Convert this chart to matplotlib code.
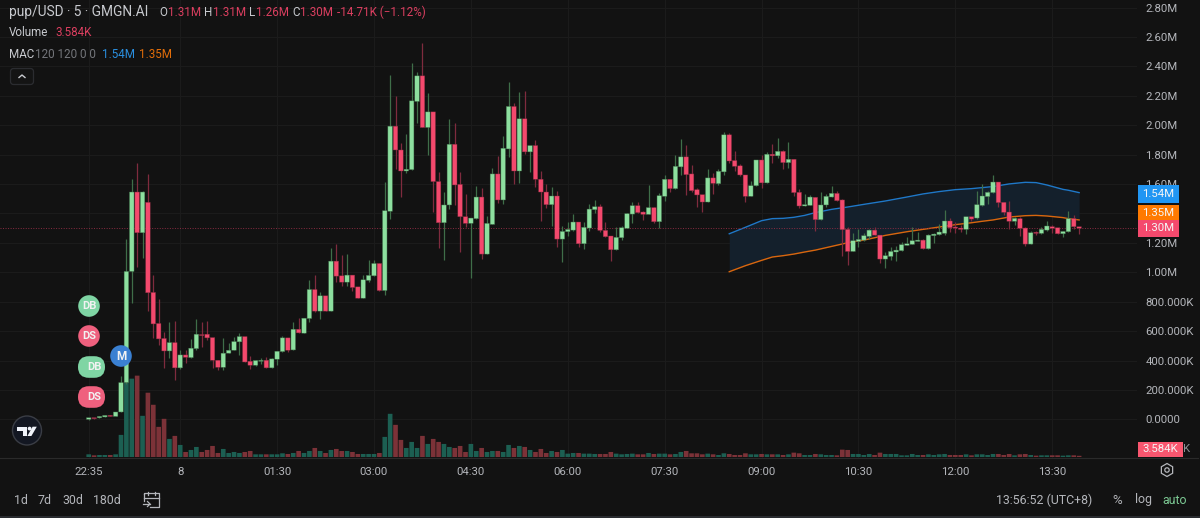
"""
Grafico de velas pup/USD a 5 minutos con volumen y banda MAC, estilo terminal oscuro.

Uso:
    python3 plot.py
"""

import matplotlib

matplotlib.use("Agg")  # sin ventana: solo guardar a archivo
import matplotlib.pyplot as plt
from matplotlib.patches import Circle, FancyBboxPatch, Polygon, RegularPolygon, Rectangle

FONDO = "#121212"
GRILLA = "#1b1b1b"
VERDE = "#8ddf9f"
ROJO = "#f4496d"
MECHA_VERDE = "#3f6e49"
MECHA_ROJA = "#7f2b3e"
VOL_VERDE = "#1c5f52"
VOL_ROJO = "#7c3238"
TEXTO = "#b4b6bb"
AZUL = "#2196f3"
NARANJA = "#ff7a00"

# Precios en millones, una vela cada 5 minutos desde las 22:35
opens = [
    0.000, 0.008, 0.010, 0.016, 0.027, 0.020, 0.050, 0.250, 1.006, 1.546,
    1.269, 1.476, 0.863, 0.652, 0.550, 0.465, 0.522, 0.350, 0.438, 0.420,
    0.481, 0.575, 0.579, 0.556, 0.402, 0.354, 0.450, 0.470, 0.527, 0.563,
    0.395, 0.368, 0.395, 0.402, 0.350, 0.409, 0.461, 0.554, 0.472, 0.613,
    0.586, 0.686, 0.883, 0.736, 0.840, 0.736, 1.076, 0.976, 0.933, 0.981,
    0.901, 0.824, 0.945, 0.976, 1.060, 0.876, 1.415, 1.994, 1.832, 1.689,
    1.698, 2.162, 2.336, 1.985, 2.091, 1.617, 1.337, 1.458, 1.871, 1.598,
    1.378, 1.333, 1.365, 1.512, 1.124, 1.326, 1.669, 1.492, 1.839, 2.128,
    1.689, 2.044, 1.819, 1.862, 1.633, 1.546, 1.460, 1.519, 1.226, 1.276,
    1.287, 1.342, 1.194, 1.301, 1.426, 1.446, 1.285, 1.247, 1.153, 1.235,
    1.299, 1.396, 1.453, 1.410, 1.394, 1.440, 1.344, 1.517, 1.633, 1.569,
    1.717, 1.785, 1.669, 1.562, 1.528, 1.478, 1.642, 1.603, 1.683, 1.935,
    1.760, 1.724, 1.662, 1.517, 1.589, 1.764, 1.608, 1.803, 1.792, 1.823,
    1.746, 1.769, 1.544, 1.451, 1.455, 1.510, 1.358, 1.458, 1.512, 1.537,
    1.492, 1.292, 1.142, 1.210, 1.219, 1.244, 1.287, 1.253, 1.090, 1.108,
    1.138, 1.147, 1.183, 1.190, 1.210, 1.219, 1.160, 1.249, 1.256, 1.265,
    1.349, 1.308, 1.301, 1.292, 1.378, 1.369, 1.455, 1.515, 1.542, 1.614,
    1.476, 1.410, 1.347, 1.365, 1.301, 1.192, 1.272, 1.265, 1.287, 1.310,
    1.303, 1.262, 1.276, 1.365, 1.310,
]
closes = [
    0.011, 0.005, 0.020, 0.027, 0.020, 0.050, 0.250, 1.006, 1.546, 1.269,
    1.546, 0.861, 0.649, 0.547, 0.465, 0.522, 0.350, 0.438, 0.422, 0.484,
    0.579, 0.570, 0.554, 0.402, 0.354, 0.450, 0.470, 0.529, 0.563, 0.390,
    0.368, 0.400, 0.400, 0.350, 0.411, 0.463, 0.554, 0.470, 0.613, 0.588,
    0.688, 0.883, 0.736, 0.840, 0.736, 1.076, 0.974, 0.933, 0.981, 0.897,
    0.824, 0.949, 0.979, 1.060, 0.876, 1.419, 1.994, 1.832, 1.689, 1.701,
    2.166, 2.336, 1.985, 2.091, 1.617, 1.337, 1.458, 1.871, 1.594, 1.378,
    1.333, 1.369, 1.512, 1.124, 1.333, 1.669, 1.492, 1.844, 2.128, 1.689,
    2.044, 1.819, 1.862, 1.633, 1.546, 1.460, 1.519, 1.226, 1.278, 1.292,
    1.342, 1.194, 1.306, 1.430, 1.446, 1.285, 1.242, 1.153, 1.238, 1.303,
    1.399, 1.453, 1.406, 1.394, 1.440, 1.344, 1.521, 1.633, 1.569, 1.721,
    1.785, 1.664, 1.555, 1.526, 1.478, 1.642, 1.605, 1.687, 1.935, 1.757,
    1.721, 1.662, 1.517, 1.589, 1.764, 1.608, 1.803, 1.792, 1.823, 1.746,
    1.769, 1.542, 1.451, 1.460, 1.512, 1.358, 1.458, 1.517, 1.537, 1.487,
    1.290, 1.142, 1.215, 1.224, 1.249, 1.287, 1.253, 1.090, 1.113, 1.142,
    1.151, 1.188, 1.194, 1.215, 1.219, 1.160, 1.253, 1.260, 1.274, 1.349,
    1.303, 1.301, 1.292, 1.378, 1.362, 1.460, 1.519, 1.544, 1.614, 1.474,
    1.408, 1.347, 1.367, 1.299, 1.192, 1.269, 1.265, 1.292, 1.315, 1.299,
    1.262, 1.278, 1.365, 1.310, 1.300,
]
highs = [
    0.011, 0.010, 0.020, 0.027, 0.032, 0.050, 0.293, 1.224, 1.635, 1.744,
    1.550, 1.669, 0.979, 0.820, 0.597, 0.663, 0.672, 0.470, 0.470, 0.543,
    0.681, 0.663, 0.672, 0.556, 0.402, 0.554, 0.522, 0.561, 0.588, 0.563,
    0.429, 0.402, 0.420, 0.425, 0.418, 0.468, 0.565, 0.554, 0.663, 0.690,
    0.688, 0.945, 0.979, 0.863, 0.840, 1.165, 1.190, 1.117, 1.122, 0.981,
    0.901, 0.981, 1.083, 1.083, 1.060, 1.617, 2.343, 2.200, 1.878, 1.941,
    2.423, 2.361, 2.559, 2.218, 2.091, 1.680, 1.544, 2.046, 2.016, 1.680,
    1.533, 1.369, 1.590, 1.571, 1.383, 1.712, 1.792, 1.926, 2.296, 2.150,
    2.228, 2.230, 1.862, 1.901, 1.692, 1.601, 1.578, 1.553, 1.315, 1.344,
    1.396, 1.342, 1.344, 1.465, 1.492, 1.465, 1.340, 1.247, 1.306, 1.315,
    1.403, 1.476, 1.476, 1.419, 1.594, 1.446, 1.537, 1.662, 1.633, 1.798,
    1.910, 1.866, 1.732, 1.576, 1.528, 1.701, 1.674, 1.701, 1.957, 1.946,
    1.828, 1.735, 1.662, 1.621, 1.764, 1.798, 1.817, 1.873, 1.912, 1.832,
    1.887, 1.769, 1.567, 1.533, 1.528, 1.510, 1.544, 1.533, 1.589, 1.555,
    1.499, 1.310, 1.265, 1.297, 1.269, 1.294, 1.310, 1.253, 1.140, 1.169,
    1.178, 1.208, 1.242, 1.306, 1.272, 1.224, 1.260, 1.265, 1.328, 1.424,
    1.367, 1.344, 1.322, 1.378, 1.378, 1.553, 1.601, 1.553, 1.660, 1.614,
    1.476, 1.485, 1.378, 1.378, 1.310, 1.281, 1.283, 1.306, 1.347, 1.319,
    1.303, 1.278, 1.415, 1.387, 1.310,
]
lows = [
    -0.004, 0.004, 0.010, 0.016, 0.020, 0.020, 0.050, 0.240, 0.790, 1.038,
    1.094, 0.736, 0.550, 0.504, 0.350, 0.418, 0.270, 0.343, 0.384, 0.420,
    0.470, 0.490, 0.538, 0.347, 0.338, 0.334, 0.450, 0.470, 0.440, 0.390,
    0.343, 0.360, 0.377, 0.347, 0.347, 0.372, 0.456, 0.461, 0.470, 0.584,
    0.584, 0.663, 0.727, 0.681, 0.736, 0.736, 0.933, 0.904, 0.904, 0.874,
    0.824, 0.824, 0.935, 0.976, 0.876, 0.845, 1.362, 1.703, 1.515, 1.673,
    1.698, 2.016, 1.985, 1.798, 1.412, 1.165, 1.083, 1.433, 1.458, 1.140,
    1.310, 0.958, 1.362, 1.092, 1.124, 1.326, 1.469, 1.465, 1.782, 1.601,
    1.605, 1.803, 1.685, 1.583, 1.349, 1.435, 1.315, 1.174, 1.072, 1.249,
    1.278, 1.169, 1.160, 1.283, 1.403, 1.274, 1.242, 1.079, 1.153, 1.219,
    1.299, 1.333, 1.401, 1.353, 1.394, 1.337, 1.299, 1.485, 1.549, 1.569,
    1.662, 1.526, 1.549, 1.446, 1.410, 1.478, 1.533, 1.594, 1.662, 1.742,
    1.692, 1.655, 1.480, 1.517, 1.589, 1.571, 1.608, 1.742, 1.776, 1.705,
    1.712, 1.521, 1.435, 1.451, 1.455, 1.283, 1.358, 1.442, 1.512, 1.487,
    1.113, 1.051, 1.142, 1.174, 1.215, 1.224, 1.251, 1.060, 1.031, 1.083,
    1.076, 1.147, 1.183, 1.190, 1.210, 1.160, 1.160, 1.201, 1.253, 1.253,
    1.274, 1.269, 1.274, 1.260, 1.351, 1.360, 1.451, 1.465, 1.542, 1.442,
    1.387, 1.297, 1.324, 1.249, 1.178, 1.192, 1.251, 1.258, 1.283, 1.265,
    1.262, 1.242, 1.272, 1.292, 1.260,
]
# Volumen en miles
volumes = [
    8, 5, 6, 6, 6, 8, 66, 222, 234, 243,
    123, 192, 156, 90, 114, 54, 63, 36, 15, 21,
    30, 15, 21, 33, 12, 24, 12, 15, 12, 15,
    18, 8, 8, 8, 8, 8, 11, 9, 12, 18,
    12, 18, 27, 18, 12, 21, 24, 18, 18, 15,
    9, 9, 9, 9, 12, 60, 129, 96, 51, 27,
    45, 27, 63, 39, 54, 45, 39, 30, 27, 33,
    15, 39, 18, 27, 15, 18, 18, 15, 36, 27,
    33, 30, 21, 15, 24, 12, 18, 15, 21, 10,
    12, 12, 10, 10, 9, 9, 9, 15, 10, 8,
    9, 10, 8, 8, 12, 9, 10, 10, 8, 9,
    15, 18, 11, 11, 8, 10, 8, 6, 11, 9,
    6, 6, 11, 8, 8, 9, 8, 8, 8, 6,
    8, 13, 11, 6, 6, 9, 8, 6, 6, 5,
    22, 21, 9, 9, 6, 9, 6, 13, 9, 9,
    9, 5, 5, 9, 6, 6, 8, 6, 8, 9,
    6, 6, 6, 8, 5, 8, 8, 6, 9, 9,
    6, 9, 5, 8, 9, 6, 4, 5, 5, 5,
    5, 4, 5, 5, 3.584,
]

# Banda MAC: vela de cada lectura y valor de las dos medias
mac_velas = [119, 122, 125, 127, 129, 131, 133, 135, 138, 141, 144, 148, 152,
             155, 158, 161, 164, 166, 168, 171, 174, 176, 178, 181, 182, 184]
mac_alta = [1.262, 1.306, 1.351, 1.365, 1.367, 1.374, 1.387, 1.406, 1.428,
            1.444, 1.462, 1.485, 1.512, 1.533, 1.549, 1.562, 1.569, 1.576,
            1.583, 1.601, 1.612, 1.610, 1.594, 1.564, 1.558, 1.542]
mac_baja = [1.004, 1.045, 1.081, 1.104, 1.113, 1.124, 1.138, 1.151, 1.176,
            1.201, 1.219, 1.251, 1.276, 1.292, 1.308, 1.324, 1.337, 1.347,
            1.356, 1.376, 1.385, 1.387, 1.383, 1.372, 1.365, 1.356]

# 1.40M queda tapado por la etiqueta naranja, por eso no se rotula
precio_ticks = [2.8, 2.6, 2.4, 2.2, 2.0, 1.8, 1.6, 1.2, 1.0, 0.8, 0.6, 0.4, 0.2, 0.0]
precio_labels = ["2.80M", "2.60M", "2.40M", "2.20M", "2.00M", "1.80M", "1.60M",
                 "1.20M", "1.00M", "800.000K", "600.000K", "400.000K", "200.000K", "0.0000"]
grilla_precio = [2.8, 2.6, 2.4, 2.2, 2.0, 1.8, 1.6, 1.4, 1.2, 1.0, 0.8, 0.6, 0.4, 0.2, 0.0]
hora_ticks = [0, 17, 35, 53, 71, 89, 107, 125, 143, 161, 179]
hora_labels = ["22:35", "8", "01:30", "03:00", "04:30", "06:00", "07:30", "09:00",
               "10:30", "12:00", "13:30"]

plt.rcParams["font.family"] = ["Roboto", "DejaVu Sans"]

fig = plt.figure(figsize=(12, 5.18), dpi=100, facecolor=FONDO)
caja = [0, 60 / 518, 1137 / 1200, 458 / 518]
lim_x = (-16.48, 194.75)
lim_y = (-0.263, 2.852)

# Tres capas con la misma caja: grilla, volumen y velas
fondo = fig.add_axes(caja, zorder=0, facecolor=FONDO)
fondo.set_xlim(lim_x)
fondo.set_ylim(lim_y)
fondo.set_xticks(hora_ticks)
fondo.set_yticks(grilla_precio)
fondo.grid(color=GRILLA, linewidth=0.8)
fondo.tick_params(length=0, labelbottom=False, labelleft=False)
for lado in fondo.spines.values():
    lado.set_visible(False)

vol = fig.add_axes(caja, zorder=1, facecolor="none")
vol.set_xlim(lim_x)
vol.set_ylim(-3, 1365)
vol.bar(range(len(volumes)), volumes, width=0.86, snap=False,
        color=[VOL_VERDE if c >= o else VOL_ROJO for o, c in zip(opens, closes)])
vol.axis("off")

ax = fig.add_axes(caja, zorder=2, facecolor="none")
ax.set_xlim(lim_x)
ax.set_ylim(lim_y)

ax.fill_between(mac_velas, mac_baja, mac_alta, color="#14202c", linewidth=0, zorder=1)
ax.plot(mac_velas, mac_alta, color="#1f78c8", linewidth=1.0, zorder=2)
ax.plot(mac_velas, mac_baja, color="#d9660d", linewidth=1.0, zorder=2)
ax.axhline(closes[-1], color="#8a2c42", linewidth=0.7, linestyle=(0, (1, 1.6)), zorder=2)

for i in range(len(opens)):
    sube = closes[i] >= opens[i]
    ax.vlines(i, lows[i], highs[i], color=MECHA_VERDE if sube else MECHA_ROJA,
              linewidth=0.9, zorder=3)
    base = min(opens[i], closes[i])
    alto = max(abs(closes[i] - opens[i]), 0.006)
    ax.bar(i, alto, bottom=base, width=0.84, color=VERDE if sube else ROJO, snap=False,
           edgecolor=MECHA_VERDE if sube else MECHA_ROJA, linewidth=0.3, zorder=4)

ax.set_xticks(hora_ticks, hora_labels)
ax.set_yticks(precio_ticks, precio_labels)
ax.yaxis.tick_right()
ax.tick_params(axis="x", length=0, pad=6.5, labelsize=8.2, labelcolor=TEXTO)
ax.tick_params(axis="y", length=0, pad=6, labelsize=8.2, labelcolor=TEXTO)
for lado in ax.spines.values():
    lado.set_visible(False)

# Capa de interfaz en pixeles: leyenda, etiquetas de precio, insignias y botones
ui = fig.add_axes([0, 0, 1, 1], zorder=3, facecolor="none")
ui.set_xlim(0, 1200)
ui.set_ylim(518, 0)
ui.axis("off")


def texto(x, y, s, color=TEXTO, size=8.5, ha="left", **kw):
    ui.text(x, y, s, color=color, fontsize=size, ha=ha, va="center", **kw)


ROJO_LEYENDA = "#dc3f60"
texto(9, 12, "pup/USD · 5 · GMGN.AI", "#c8cacf", 9.9)
for x, s, c in [(159, "O", "#c8cacf"), (168, "1.31M", ROJO_LEYENDA), (204, "H", "#c8cacf"),
                (213, "1.31M", ROJO_LEYENDA), (249, "L", "#c8cacf"), (256, "1.26M", ROJO_LEYENDA),
                (292, "C", "#c8cacf"), (300, "1.30M", ROJO_LEYENDA),
                (337, "-14.71K (−1.12%)", ROJO_LEYENDA)]:
    texto(x, 12, s, c, 8.4)
texto(9, 33, "Volume", "#c8cacf", 8.4)
texto(55, 33, "3.584K", ROJO_LEYENDA, 8.4)
texto(9, 54, "MAC", "#c8cacf", 8.4)
texto(35, 54, "120 120 0 0", "#74767b", 8.4)
texto(102, 54, "1.54M", "#2a8fdf", 8.4)
texto(139, 54, "1.35M", "#e36e0a", 8.4)

# Boton de plegar la leyenda
ui.add_patch(FancyBboxPatch((10.5, 68.5), 23, 16, boxstyle="round,pad=0,rounding_size=3",
                            facecolor="#141414", edgecolor="#2b2c30", linewidth=0.9))
ui.plot([19, 22, 25], [77.5, 75, 77.5], color="#c8cacf", linewidth=1.0)

# Insignias de eventos
VERDE_INS = "#7fd5a4"
ROJO_INS = "#ef607e"
for x, y, s, c in [(89, 306, "DB", VERDE_INS), (89, 336, "DS", ROJO_INS)]:
    ui.add_patch(Circle((x, y), 10.8, facecolor=c, edgecolor="none"))
    texto(x, y, s, "#f2f2f2", 8, ha="center", fontweight="bold")
for y, s, c in [(367, "DB", VERDE_INS), (397, "DS", ROJO_INS)]:
    ui.add_patch(FancyBboxPatch((78, y - 10.8), 27, 21.6, boxstyle="round,pad=0,rounding_size=10.8",
                                facecolor=c, edgecolor="none"))
    texto(94.5, y, s, "#f2f2f2", 8, ha="center", fontweight="bold")
ui.add_patch(Circle((121, 356), 10.8, facecolor="#3a80d2", edgecolor="none"))
texto(121, 356, "M", "#f2f2f2", 8.4, ha="center", fontweight="bold")

# Logo redondo
ui.add_patch(Circle((27, 430.5), 14.5, facecolor="#131722", edgecolor="#3a3d45", linewidth=1.0))
ui.add_patch(Polygon([(17.3, 426.7), (27, 426.7), (27, 436), (23, 436), (23, 430.5), (17.3, 430.5)],
                     facecolor="#f0f3fa", edgecolor="none"))
ui.add_patch(Circle((29.6, 428.6), 1.9, facecolor="#f0f3fa", edgecolor="none"))
ui.add_patch(Polygon([(32.6, 426.7), (36.8, 426.7), (31.4, 436), (27.4, 436)],
                     facecolor="#f0f3fa", edgecolor="none"))

# Etiquetas de valor actual sobre la escala
for y0, y1, s, c in [(185, 203, "1.54M", AZUL), (205, 220, "1.35M", NARANJA), (220, 236.5, "1.30M", ROJO)]:
    ui.add_patch(Rectangle((1137.5, y0), 41, y1 - y0, facecolor=c, edgecolor="none"))
    texto(1158, (y0 + y1) / 2, s, "#f5f5f5", 8.2, ha="center")
ui.add_patch(Rectangle((1137.5, 441.7), 45, 15.3, facecolor="#f9566f", edgecolor="none"))
texto(1160, 449.5, "3.584K", "#f5f5f5", 8.2, ha="center")
texto(1183.5, 449.5, "K", "#8f9196", 8.2)

# Lineas del borde inferior de la zona de grafico y de la ventana
ui.plot([0, 1198], [457.8, 457.8], color="#2a2a2a", linewidth=0.8)
ui.add_patch(Rectangle((0, 516), 1200, 2, facecolor="#2a2c30", edgecolor="none"))

# Icono de ajustes de la escala
ui.add_patch(RegularPolygon((1167, 470), 6, radius=6.5, facecolor="none", edgecolor=TEXTO, linewidth=0.9))
ui.add_patch(Circle((1167, 470), 2.2, facecolor="none", edgecolor=TEXTO, linewidth=0.9))

# Barra inferior
for x, s in [(20.7, "1d"), (44.7, "7d"), (72.7, "30d"), (106.7, "180d")]:
    texto(x, 500, s, TEXTO, 8.9, ha="center")
ui.plot([144, 144], [501, 494], color=TEXTO, linewidth=0.9)
ui.plot([144, 144, 159, 159, 150], [494, 493, 493, 507, 507], color=TEXTO, linewidth=0.9)
ui.plot([144, 159], [497.5, 497.5], color=TEXTO, linewidth=0.9)
ui.plot([148, 148], [491.5, 494.5], color=TEXTO, linewidth=0.9)
ui.plot([155, 155], [491.5, 494.5], color=TEXTO, linewidth=0.9)
ui.plot([142.5, 150], [504, 504], color=TEXTO, linewidth=0.9)
ui.plot([147.5, 150, 147.5], [501.5, 504, 506.5], color=TEXTO, linewidth=0.9)

texto(1044, 500, "13:56:52 (UTC+8)", TEXTO, 8.9, ha="center")
texto(1117, 500, "%", TEXTO, 9.6, ha="center")
texto(1143, 500, "log", TEXTO, 8.9, ha="center")
texto(1175, 500, "auto", "#7bc792", 8.9, ha="center")

fig.savefig("out.png", dpi=100, facecolor=FONDO)
